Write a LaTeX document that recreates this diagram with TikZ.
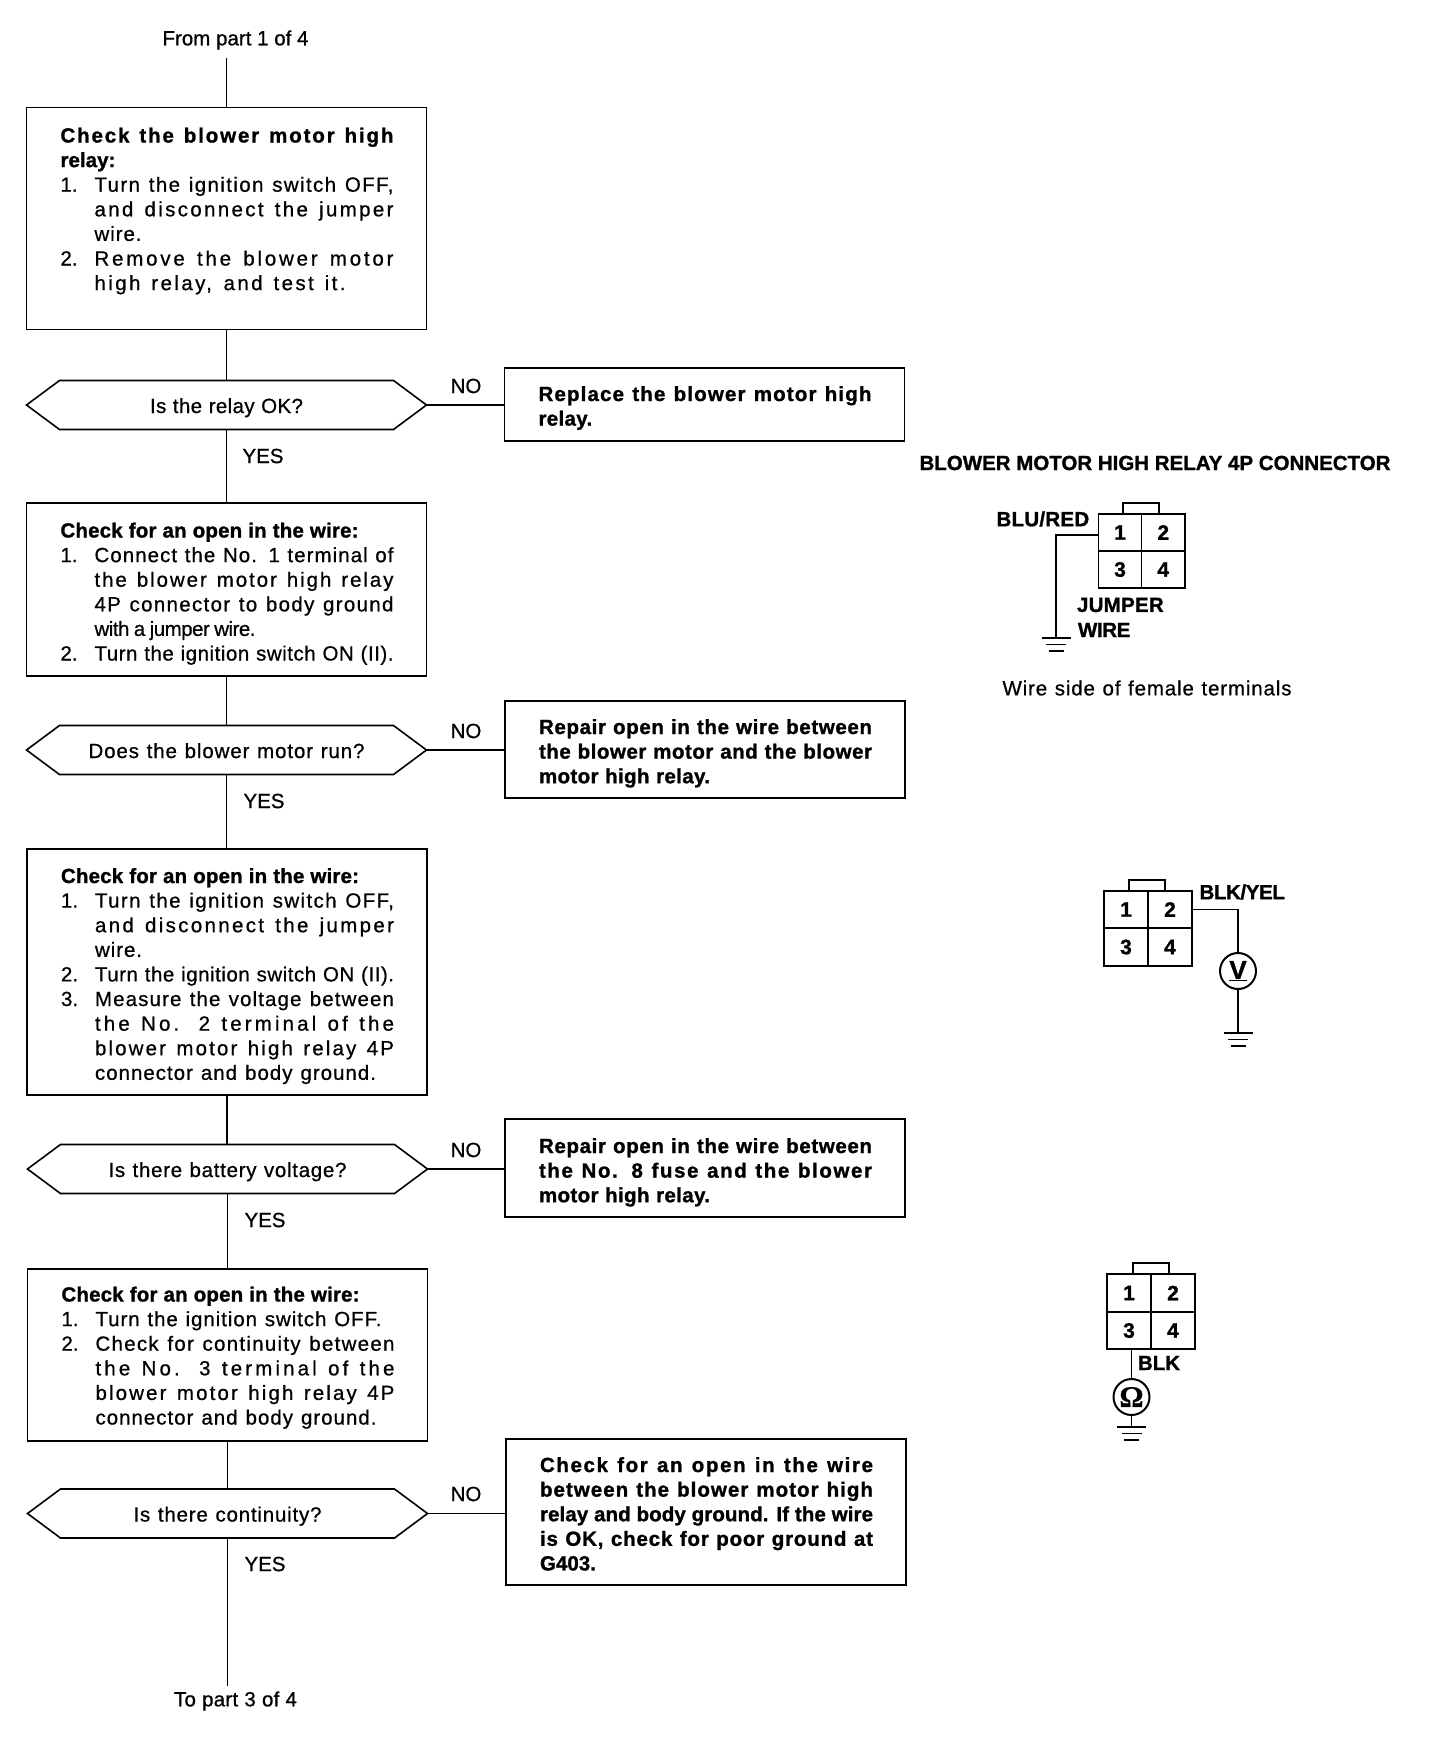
\documentclass[tikz,border=0pt]{standalone}
\usepackage{fontspec}
\usepackage{xstring}
\setmainfont{Liberation Sans}[UprightFeatures={FakeBold=0.7},BoldFeatures={FakeBold=1.2}]
\newfontfamily\omfont{Liberation Serif}[BoldFeatures={FakeBold=0.8}]
\newlength\boxW \setlength\boxW{400pt}
\newcommand\stepsize{\fontsize{20.5}{24.6}\selectfont}
% set a text at a given width by letter spacing, as the original does
\newcommand\fit[2]{\hbox{\setbox0=\hbox{#2}\StrLen{#2}[\nch]%
  \pgfmathsetmacro\lsp{(#1pt-\the\wd0)/\nch/20.5*100}%
  \edef\lspset{\noexpand\addfontfeature{LetterSpace=\lsp}}\lspset
  \hbox to #1pt{#2}}}
\newcommand\LLine[1]{\hbox to \boxW{\hskip34pt\rule{0pt}{15pt}#1\hss}}
\newcommand\BF[2]{\LLine{\hbox{\bfseries\fit{#1}{#2}}}}
\newcommand\BJ[1]{\BF{333}{#1}}
\newcommand\SF[3]{\LLine{\hbox to 34pt{#1\hss}\fit{#2}{#3}}}
\newcommand\SJ[2]{\SF{#1}{299}{#2}}
\newcommand\boxtxt[3]{\vbox to #1pt{\baselineskip=24.6pt\lineskiplimit=-100pt\vskip #2pt #3\vss}}
\tikzset{
  every node/.style={outer sep=0pt,inner sep=0pt},
  stepbox/.style={draw=black,line width=1.7pt,anchor=north west,minimum width=400pt,font=\stepsize},
  query/.style={minimum width=400pt,minimum height=49pt,font=\stepsize},
  wire/.style={draw=black,line width=1.6pt},
  tag/.style={font=\stepsize},
  btag/.style={font=\stepsize\bfseries},
  cell/.style={draw=black,line width=1.7pt,font=\fontsize{21}{24}\selectfont\bfseries},
  meter/.style={draw=black,line width=2pt,circle,minimum size=36pt},
}
\newcommand\query[5]{%
  \node[query] (#1) at (#2,#3) {\raisebox{-8pt}[0pt][0pt]{\fit{#4}{#5}}};
  \draw[wire] (#1.west) -- ([xshift=33pt]#1.north west) -- ([xshift=-33pt]#1.north east) -- (#1.east)
     -- ([xshift=-33pt]#1.south east) -- ([xshift=33pt]#1.south west) -- cycle;}
\newcommand\gnd[3]{%
  \coordinate (#1) at (#2,#3);
  \draw[wire] ([xshift=-14.5pt]#1) -- ([xshift=14.5pt]#1);
  \draw[wire] ([xshift=-10pt,yshift=-6.5pt]#1) -- ([xshift=10pt,yshift=-6.5pt]#1);
  \draw[wire] ([xshift=-7.5pt,yshift=-13pt]#1) -- ([xshift=7.5pt,yshift=-13pt]#1);}
\newcommand\conn[8]{% prefix, x left, x mid, x right, y top, y mid, y bottom, tab centre
  \node[cell,minimum width={(#3-#2)*1pt},minimum height={(#6-#5)*1pt}] (#1a) at ({(#2+#3)/2},{(#5+#6)/2}) {1};
  \node[cell,minimum width={(#4-#3)*1pt},minimum height={(#6-#5)*1pt}] (#1b) at ({(#3+#4)/2},{(#5+#6)/2}) {2};
  \node[cell,minimum width={(#3-#2)*1pt},minimum height={(#7-#6)*1pt}] (#1c) at ({(#2+#3)/2},{(#6+#7)/2}) {3};
  \node[cell,minimum width={(#4-#3)*1pt},minimum height={(#7-#6)*1pt}] (#1d) at ({(#3+#4)/2},{(#6+#7)/2}) {4};
  \node[draw=black,line width=1.6pt,minimum width=36pt,minimum height=11pt,anchor=south] (#1t) at (#8,#5) {};}
\begin{document}
\begin{tikzpicture}[x=1pt,y=-1pt]
\useasboundingbox (0,0) rectangle (1440,1740);
% terminals
\node[tag] (from) at (235.5,40) {\fit{146}{From part 1 of 4}};
\coordinate (c0) at (226.5,58);
\node[tag] (to) at (235.5,1701) {\fit{123}{To part 3 of 4}};
\coordinate (c9) at (227,1686);
% left column
\node[stepbox] (b1) at (26.5,107.5) {\boxtxt{222}{20}{%
 \BJ{Check the blower motor high}
 \BF{55}{relay:}
 \SJ{1.}{Turn the ignition switch OFF,}
 \SJ{}{and disconnect the jumper}
 \SF{}{48}{wire.}
 \SJ{2.}{Remove the blower motor}
 \SF{}{251}{high relay, and test it.}}};
\query{d1}{226.5}{405}{153}{Is the relay OK?}
\node[stepbox] (b2) at (26.5,503) {\boxtxt{173}{19.5}{%
 \BF{298}{Check for an open in the wire:}
 \SJ{1.}{Connect the No. 1 terminal of}
 \SJ{}{the blower motor high relay}
 \SJ{}{4P connector to body ground}
 \SF{}{161}{with a jumper wire.}
 \SJ{2.}{Turn the ignition switch ON (II).}}};
\query{d2}{226.5}{750}{276}{Does the blower motor run?}
\node[stepbox] (b3) at (27,849) {\boxtxt{246}{19}{%
 \BF{298}{Check for an open in the wire:}
 \SJ{1.}{Turn the ignition switch OFF,}
 \SJ{}{and disconnect the jumper}
 \SF{}{48}{wire.}
 \SJ{2.}{Turn the ignition switch ON (II).}
 \SJ{3.}{Measure the voltage between}
 \SJ{}{the No. 2 terminal of the}
 \SJ{}{blower motor high relay 4P}
 \SF{}{281}{connector and body ground.}}};
\query{d3}{227.5}{1169}{238}{Is there battery voltage?}
\node[stepbox] (b4) at (27.5,1269) {\boxtxt{172}{17.5}{%
 \BF{298}{Check for an open in the wire:}
 \SF{1.}{286}{Turn the ignition switch OFF.}
 \SJ{2.}{Check for continuity between}
 \SJ{}{the No. 3 terminal of the}
 \SJ{}{blower motor high relay 4P}
 \SF{}{281}{connector and body ground.}}};
\query{d4}{227.5}{1513.5}{188}{Is there continuity?}
% right column
\node[stepbox] (n1) at (504.5,368) {\boxtxt{73}{18}{%
 \BJ{Replace the blower motor high}
 \BF{54}{relay.}}};
\node[stepbox] (n2) at (505,701) {\boxtxt{97}{18}{%
 \BJ{Repair open in the wire between}
 \BJ{the blower motor and the blower}
 \BF{171}{motor high relay.}}};
\node[stepbox] (n3) at (505,1119) {\boxtxt{98}{19}{%
 \BJ{Repair open in the wire between}
 \BJ{the No. 8 fuse and the blower}
 \BF{171}{motor high relay.}}};
\node[stepbox] (n4) at (506,1439) {\boxtxt{146}{18}{%
 \BJ{Check for an open in the wire}
 \BJ{between the blower motor high}
 \BJ{relay and body ground. If the wire}
 \BJ{is OK, check for poor ground at}
 \BF{56}{G403.}}};
% connectors
\foreach \a/\b in {c0/b1,b1/d1,d1/b2,b2/d2,d2/b3,b3/d3,d3/b4,b4/d4,d4/c9}
  \draw[wire] (\a.south) -- (\a.south |- \b.north);
\foreach \a/\b in {d1/n1,d2/n2,d3/n3,d4/n4}
  \draw[wire] (\a.east) -- (\a.east -| \b.west);
% branch labels
\node[tag] (no1) at (466,386) {NO};
\node[tag] (yes1) at (263,456) {YES};
\node[tag] (no2) at (466,731) {NO};
\node[tag] (yes2) at (264,801) {YES};
\node[tag] (no3) at (466,1150) {NO};
\node[tag] (yes3) at (265,1220) {YES};
\node[tag] (no4) at (466,1494) {NO};
\node[tag] (yes4) at (265,1564) {YES};
% connector views
\node[btag] (title) at (1155,463) {\fit{471}{BLOWER MOTOR HIGH RELAY 4P CONNECTOR}};
\conn{p}{1098.5}{1141.5}{1185}{514}{551}{588}{1141}
\node[btag] (blured) at (1043,519) {\fit{93}{BLU/RED}};
\node[btag,anchor=west] (jumper) at (1077,605) {\fit{87}{JUMPER}};
\node[btag,anchor=west] (jwire) at (1078,630) {\fit{52}{WIRE}};
\gnd{g1}{1056}{638}
\draw[wire] ([yshift=-2.5pt]pa.west) -| (g1);
\node[tag] (side) at (1147,688) {\fit{289}{Wire side of female terminals}};
\conn{q}{1104}{1148}{1192}{891}{928}{966}{1147}
\node[btag] (blkyel) at (1242,892) {\fit{85}{BLK/YEL}};
\node[meter,font=\fontsize{26}{26}\selectfont\bfseries] (vm) at (1238,971) {\underline{V}};
\gnd{g2}{1238}{1033}
\draw[wire] (qb.east) -| (vm.north);
\draw[wire] (vm.south) -- (g2);
\conn{r}{1107}{1151}{1195}{1274}{1312}{1349}{1151}
\node[btag] (blk) at (1159,1363) {BLK};
\node[meter,font=\fontsize{30}{30}\selectfont\omfont\bfseries] (om) at (1131.5,1397) {Ω};
\gnd{g3}{1131.5}{1427}
\draw[wire] (om.north) -- (om.north |- rc.south);
\draw[wire] (om.south) -- (g3);
\end{tikzpicture}
\end{document}
